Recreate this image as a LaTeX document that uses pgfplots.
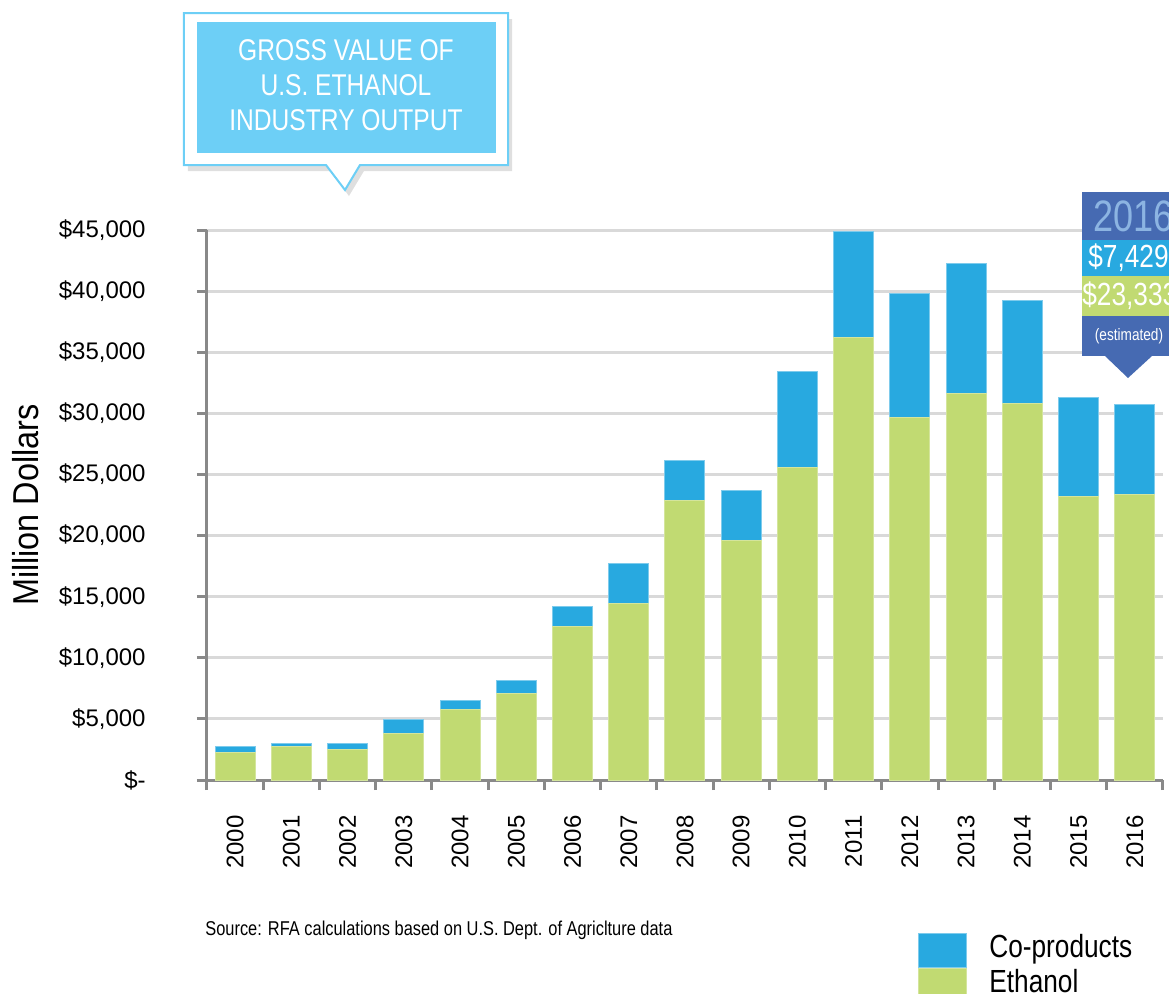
\documentclass[border=0pt]{standalone}
\usepackage{fontspec}
\setmainfont{Liberation Sans}
\newfontfamily\cond{Liberation Sans}[FakeStretch=0.82]
\newfontfamily\condb{Liberation Sans}[FakeStretch=0.9]
\usepackage{pgfplots}
\usepackage{pgfplotstable}
\pgfplotsset{compat=1.18}
\usetikzlibrary{shadows}
\definecolor{cgreen}{RGB}{193,218,114}
\definecolor{cblue}{RGB}{40,169,224}
\definecolor{tbox}{RGB}{109,207,246}
\definecolor{dblue}{RGB}{70,106,178}
\definecolor{lblue}{RGB}{140,180,226}
\definecolor{gridc}{RGB}{217,217,217}
\definecolor{axc}{RGB}{137,137,137}
\pgfplotstableread{
x year eth cop
0 2000 2210 510
1 2001 2750 270
2 2002 2480 540
3 2003 3840 1080
4 2004 5730 790
5 2005 7090 1060
6 2006 12540 1630
7 2007 14440 3270
8 2008 22890 3270
9 2009 19620 4090
10 2010 25610 7850
11 2011 36230 8670
12 2012 29700 10070
13 2013 31600 10620
14 2014 30780 8450
15 2015 23160 8170
16 2016 23333 7429
}\datatab
\begin{document}
\begin{tikzpicture}
\clip (-103.5pt,-106.5pt) rectangle (481pt,390pt);
\begin{axis}[
  at={(0pt,0pt)}, anchor=south west,
  width=478pt, height=275pt, scale only axis,
  ybar stacked, bar width=20pt,
  xmin=-0.5, xmax=16.5, ymin=0, ymax=45000,
  scaled y ticks=false,
  axis x line=bottom, axis y line=left,
  axis line style={-, axc, line width=1.5pt},
  tick align=outside,
  xtick={0,...,16},
  xticklabels={2000,2001,2002,2003,2004,2005,2006,2007,2008,2009,2010,2011,2012,2013,2014,2015,2016},
  minor xtick={-0.5,0.5,...,16.5},
  major x tick style={draw=none},
  minor x tick style={axc, line width=1.5pt},
  minor tick length=5pt,
  ytick={0,5000,...,45000},
  yticklabels={{\$-},{\$5,000},{\$10,000},{\$15,000},{\$20,000},{\$25,000},{\$30,000},{\$35,000},{\$40,000},{\$45,000}},
  major y tick style={axc, line width=1.5pt},
  major tick length=5pt,
  ymajorgrids,
  major grid style={gridc, line width=1.5pt},
  tick label style={font=\fontsize{12}{14}\selectfont},
  yticklabel style={anchor=east, inner sep=0pt, xshift=-25.5pt},
  xticklabel style={rotate=90, anchor=east, inner sep=0pt, xshift=-12.5pt},
  ylabel={\condb\fontsize{18}{20}\selectfont Million Dollars},
  ylabel style={at={(axis description cs:-0.19,0.5)}, anchor=center},
  legend cell align=left,
  legend style={draw=none, fill=none, at={(axis description cs:0.7437,-0.278)}, anchor=north west,
    inner sep=0pt, row sep=0pt, font=\cond\fontsize{16}{17}\selectfont,
    nodes={inner sep=0pt, text height=12pt, text depth=5pt},
    /tikz/every odd column/.append style={column sep=11pt}},
  legend image code/.code={\fill[#1] (0pt,-8.5pt) rectangle (24pt,8.5pt);},
  reverse legend,
]
\addplot[fill=cgreen, draw=cgreen!70!white, line width=0.5pt] table[x=x,y=eth]{\datatab};
\addlegendentry{Ethanol}
\addplot[fill=cblue, draw=cblue!60!white, line width=0.5pt] table[x=x,y=cop]{\datatab};
\addlegendentry{Co-products}
\end{axis}
\begin{scope}[x=1pt,y=1pt]
% title box
\draw[tbox, line width=1pt, fill=white, drop shadow={shadow xshift=2pt, shadow yshift=-3pt, opacity=0.25, fill=gray}]
  (-11.5,383.5) -- (150.5,383.5) -- (150.5,307.5) -- (76.5,307.5) -- (69,295) -- (59.5,307.5) -- (-11.5,307.5) -- cycle;
\fill[tbox] (-5,379) rectangle (144.5,313.5);
\node[align=center, text=white, font=\cond\fontsize{15}{17.5}\selectfont, inner sep=0pt] at (69.5,347.5)
  {GROSS VALUE OF\\U.S. ETHANOL\\INDUSTRY OUTPUT};
% 2016 callout
\fill[dblue] (437.5,294) rectangle (495,212);
\fill[cblue] (437.5,270) rectangle (495,252);
\fill[cgreen] (437.5,252) rectangle (495,232);
\fill[dblue] (449,212) -- (472.5,212) -- (460.5,201) -- cycle;
\node[anchor=west, inner sep=0pt, text=lblue, font=\cond\fontsize{22}{24}\selectfont] at (443,282) {2016};
\node[anchor=west, inner sep=0pt, text=white, font=\cond\fontsize{16}{18}\selectfont] at (440.5,261) {\$7,429};
\node[anchor=west, inner sep=0pt, text=white, font=\cond\fontsize{16}{18}\selectfont] at (437.5,242) {\$23,333};
\node[inner sep=0pt, text=white, font=\cond\fontsize{8.3}{9}\selectfont] at (461,222) {(estimated)};
% source
\node[anchor=west, inner sep=0pt, font=\cond\fontsize{10}{12}\selectfont] at (-1,-75) {Source: RFA calculations based on U.S. Dept. of Agriclture data};
\end{scope}
\end{tikzpicture}
\end{document}
